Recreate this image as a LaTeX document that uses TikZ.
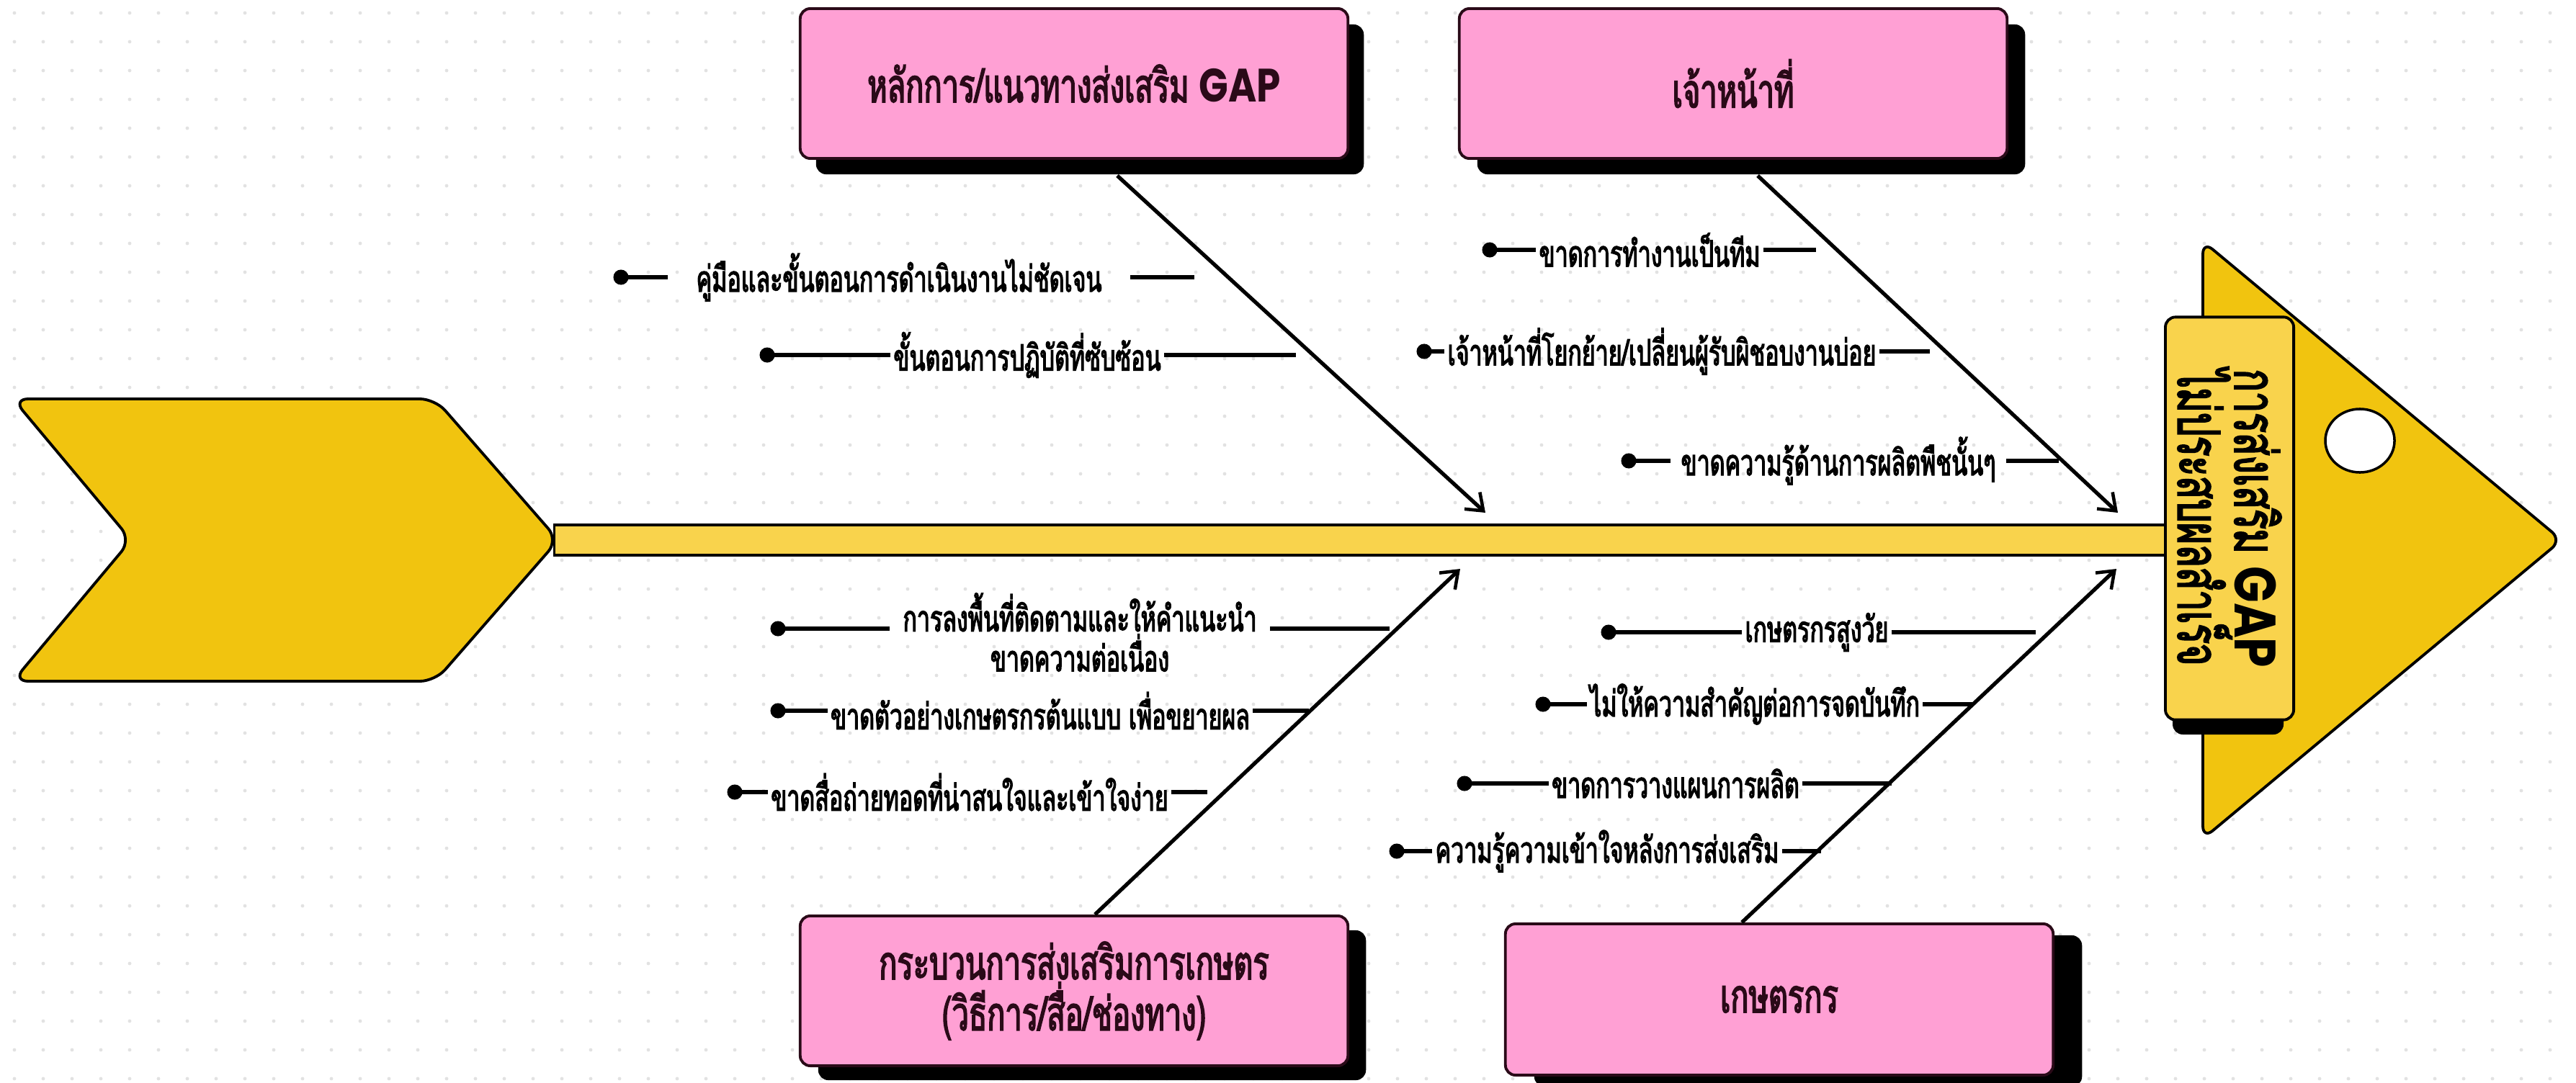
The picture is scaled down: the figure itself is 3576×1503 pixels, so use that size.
\documentclass[tikz,border=0pt]{standalone}
\usepackage{fontspec}
\setmainfont{Liberation Sans}
\newfontfamily\thaifont[Script=Thai,FakeStretch=0.64,FakeBold=2.6]{Loma}
\newfontfamily\gapfont[FakeStretch=0.82]{Poppins}
\usetikzlibrary{arrows.meta,calc,shadows,shapes.geometric}

\definecolor{petal}{HTML}{FFA0D4}
\definecolor{inkline}{HTML}{2A0A18}
\definecolor{gold}{HTML}{F1C40F}
\definecolor{butter}{HTML}{F9D34C}
\definecolor{speck}{HTML}{E2E2E2}

\newcommand{\gap}{{\gapfont\bfseries GAP}}

\tikzset{
  catbox/.style={draw=inkline, line width=1.1pt, fill=petal, rounded corners=4pt,
    minimum width=7.6cm, minimum height=2.08cm, align=center, text=inkline,
    font=\thaifont\fontsize{18.5}{17}\selectfont},
  bone/.style={line width=1.5pt, -{Straight Barb[length=6pt,width=9pt,line width=1.3pt]}},
  twig/.style={line width=1.7pt},
  knob/.style={circle, fill=black, inner sep=0pt, minimum size=6pt},
  cause/.style={font=\thaifont\fontsize{14.3}{14.5}\selectfont,
    inner xsep=1pt, inner ysep=0pt, align=center},
}

\begin{document}
\begin{tikzpicture}[x=0.01cm, y=-0.01cm]
\useasboundingbox (0,0) rectangle (3576,1503);

% dotted paper
\foreach \i in {0,...,89}{
  \foreach \j in {0,...,37}{
    \fill[speck] (20+\i*40, 18+\j*40) circle (0.7pt);
  }
}

% spine
\node[draw=black, line width=1pt, fill=butter, minimum width=22.4cm, minimum height=0.42cm,
      inner sep=0pt] (spine) at (1890,750) {};

% tail chevron
\filldraw[fill=gold, draw=black, line width=1.1pt, rounded corners=6pt]
  (18,554) -- (604,554) -- (775,750) -- (604,946) -- (18,946) -- (182,750) -- cycle;

% head triangle with eye
\filldraw[fill=gold, draw=black, line width=1.1pt, rounded corners=5pt]
  (3058,335) -- (3556,750) -- (3058,1165) -- cycle;
\node[draw=black, line width=1pt, fill=white, ellipse, minimum width=0.96cm,
      minimum height=0.88cm, inner sep=0pt] (eye) at (3276,612) {};

% problem statement box
\fill[black, rounded corners=4pt] (3016,470) rectangle (3170,1020);
\node[draw=black, line width=1.1pt, fill=butter, rounded corners=4pt, rotate=-90,
      minimum width=5.59cm, minimum height=1.78cm, align=left, inner sep=2pt,
      font=\thaifont\fontsize{23}{19}\selectfont] (goal) at (3095,720)
  {การส่งเสริม \gap\\ไม่ประสบผลสำเร็จ};

% bones
\coordinate (tlend) at (2062,712);
\coordinate (trend) at (2940,712);
\coordinate (blend) at (2027,790);
\coordinate (brend) at (2938,790);

\node[catbox, drop shadow={shadow xshift=0.22cm, shadow yshift=-0.22cm, fill=black, opacity=1}]
  (tl) at (1491,116) {หลักการ/แนวทางส่งเสริม \gap};
\node[catbox, drop shadow={shadow xshift=0.25cm, shadow yshift=-0.22cm, fill=black, opacity=1}]
  (tr) at (2406,116) {เจ้าหน้าที่};
\node[catbox, drop shadow={shadow xshift=0.25cm, shadow yshift=-0.2cm, fill=black, opacity=1}]
  (bl) at (1491,1376) {กระบวนการส่งเสริมการเกษตร\\(วิธีการ/สื่อ/ช่องทาง)};
\node[catbox, minimum height=2.1cm, drop shadow={shadow xshift=0.4cm, shadow yshift=-0.16cm, fill=black, opacity=1}]
  (br) at (2470,1388) {เกษตรกร};

\draw[bone] ($(tl.south)+(60,0)+(0,22)$) -- (tlend);
\draw[bone] ($(tr.south)+(34,0)+(0,22)$) -- (trend);
\draw[bone] ($(bl.north)+(29,0)$) -- (blend);
\draw[bone] ($(br.north)+(-52,0)$) -- (brend);

% causes: principles
\node[knob] (k1) at (862,385) {};
\node[cause, inner xsep=11pt] (c1) at (1248,385) {คู่มือและขั้นตอนการดำเนินงานไม่ชัดเจน};
\coordinate (e1) at (1658,385);
\node[knob] (k2) at (1065,493) {};
\node[cause] (c2) at (1426,493) {ขั้นตอนการปฏิบัติที่ซับซ้อน};
\coordinate (e2) at (1799,493);

% causes: officers
\node[knob] (k3) at (2068,347) {};
\node[cause] (c3) at (2290,347) {ขาดการทำงานเป็นทีม};
\coordinate (e3) at (2521,347);
\node[knob] (k4) at (1977,488) {};
\node[cause] (c4) at (2307,488) {เจ้าหน้าที่โยกย้าย/เปลี่ยนผู้รับผิชอบงานบ่อย};
\coordinate (e4) at (2679,488);
\node[knob] (k5) at (2261,640) {};
\node[cause, inner xsep=4pt] (c5) at (2552,640) {ขาดความรู้ด้านการผลิตพืชนั้นๆ};
\coordinate (e5) at (2858,640);

% causes: extension process
\node[knob] (k6) at (1080,873) {};
\node[cause, inner xsep=5pt] (c6) at (1499,878) {การลงพื้นที่ติดตามและให้คำแนะนำ\\ขาดความต่อเนื่อง};
\coordinate (e6) at (1929,873);
\node[knob] (k7) at (1080,987) {};
\node[cause] (c7) at (1444,987) {ขาดตัวอย่างเกษตรกรต้นแบบ เพื่อขยายผล};
\coordinate (e7) at (1817,987);
\node[knob] (k8) at (1020,1100) {};
\node[cause] (c8) at (1346,1100) {ขาดสื่อถ่ายทอดที่น่าสนใจและเข้าใจง่าย};
\coordinate (e8) at (1676,1100);

% causes: farmers
\node[knob] (k9) at (2233,878) {};
\node[cause] (c9) at (2522,878) {เกษตรกรสูงวัย};
\coordinate (e9) at (2826,878);
\node[knob] (k10) at (2142,978) {};
\node[cause] (c10) at (2436,978) {ไม่ให้ความสำคัญต่อการจดบันทึก};
\coordinate (e10) at (2739,978);
\node[knob] (k11) at (2033,1088) {};
\node[cause] (c11) at (2326,1088) {ขาดการวางแผนการผลิต};
\coordinate (e11) at (2626,1088);
\node[knob] (k12) at (1939,1182) {};
\node[cause] (c12) at (2231,1182) {ความรู้ความเข้าใจหลังการส่งเสริม};
\coordinate (e12) at (2528,1182);

\foreach \n in {1,...,5,7,8,9,10,11,12}{
  \draw[twig] (k\n.center) -- (c\n.west);
  \draw[twig] (c\n.east) -- (e\n);
}
\draw[twig] (k6.center) -- (c6.west |- k6);
\draw[twig] (c6.east |- k6) -- (e6);
\end{tikzpicture}
\end{document}
